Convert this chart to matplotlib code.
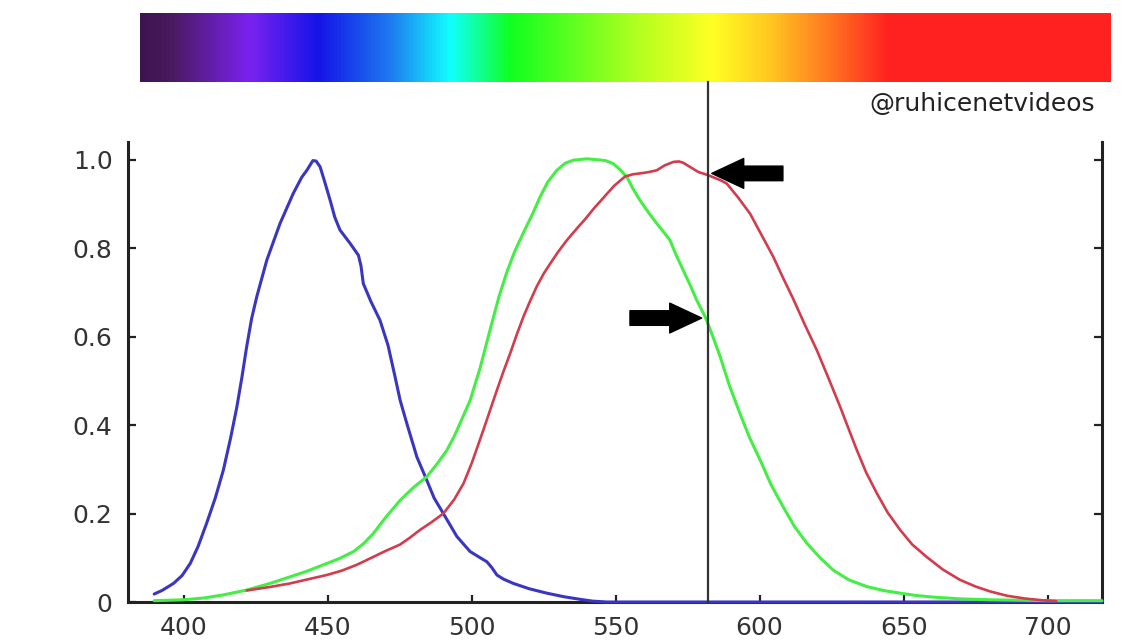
import matplotlib
matplotlib.use('Agg')
import matplotlib.pyplot as plt
import numpy as np
from matplotlib.colors import LinearSegmentedColormap

# cone response curves (wavelength nm, relative response)
blue_nm = [389.8, 392.5, 396.5, 399.5, 402.3, 405.0, 408.0, 411.0, 413.8, 416.3, 418.5, 420.3,
           421.9, 423.6, 425.4, 428.9, 433.5, 438.1, 441.0, 442.8, 444.9, 446.0, 447.4, 449.0,
           450.9, 452.5, 454.3, 457.8, 460.7, 461.6, 462.4, 465.0, 468.2, 471.0, 473.4, 475.2,
           477.5, 481.0, 484.4, 487.0, 490.2, 494.9, 499.5, 503.0, 505.3, 507.0, 508.8, 511.0,
           514.5, 520.0, 526.1, 532.0, 537.7, 542.0, 547.0, 718.9]
blue_val = [0.018, 0.026, 0.042, 0.060, 0.087, 0.125, 0.178, 0.235, 0.298, 0.370, 0.441, 0.510,
            0.577, 0.640, 0.690, 0.773, 0.856, 0.924, 0.960, 0.976, 0.998, 0.997, 0.984, 0.950,
            0.908, 0.870, 0.841, 0.811, 0.784, 0.760, 0.720, 0.680, 0.637, 0.580, 0.510, 0.456,
            0.404, 0.328, 0.276, 0.235, 0.200, 0.148, 0.114, 0.100, 0.091, 0.078, 0.061, 0.052,
            0.042, 0.030, 0.020, 0.012, 0.006, 0.002, 0.0, 0.0]

green_nm = [389.8, 400.0, 407.0, 413.8, 421.9, 430.0, 437.0, 443.0, 448.5, 454.0, 459.0, 462.5,
            465.9, 470.0, 475.2, 480.0, 484.4, 488.0, 491.4, 494.0, 496.0, 499.5, 503.0, 506.4,
            509.5, 512.2, 515.0, 518.0, 521.0, 523.8, 526.5, 529.6, 532.5, 535.4, 540.0, 543.5,
            546.5, 549.2, 551.5, 553.9, 556.0, 558.5, 561.5, 564.3, 566.5, 568.9, 571.0, 573.5,
            576.0, 578.2, 581.1, 583.5, 586.3, 589.5, 593.2, 596.5, 600.2, 604.0, 608.2, 612.0,
            616.4, 621.0, 625.6, 631.0, 637.2, 643.0, 648.8, 654.0, 660.4, 670.0, 680.0, 700.0,
            718.9]
green_val = [0.003, 0.005, 0.009, 0.016, 0.027, 0.042, 0.057, 0.070, 0.084, 0.098, 0.114, 0.132,
             0.155, 0.190, 0.230, 0.260, 0.283, 0.312, 0.343, 0.375, 0.404, 0.456, 0.530, 0.615,
             0.690, 0.745, 0.793, 0.835, 0.875, 0.916, 0.950, 0.976, 0.992, 0.999, 1.002, 1.0,
             0.998, 0.991, 0.978, 0.961, 0.935, 0.908, 0.880, 0.856, 0.838, 0.818, 0.785, 0.750,
             0.715, 0.682, 0.645, 0.605, 0.555, 0.490, 0.426, 0.372, 0.321, 0.265, 0.215, 0.172,
             0.133, 0.100, 0.072, 0.050, 0.035, 0.026, 0.020, 0.015, 0.011, 0.007, 0.005, 0.003,
             0.003]

red_nm = [421.9, 430.0, 437.0, 443.0, 449.7, 455.0, 460.1, 463.0, 465.9, 470.0, 475.2, 478.5,
          482.1, 486.0, 490.2, 494.0, 497.2, 500.0, 502.0, 504.1, 506.5, 508.8, 511.0, 513.4,
          515.7, 518.0, 520.3, 522.6, 525.0, 527.3, 530.2, 533.1, 536.5, 539.5, 542.5, 545.8,
          549.5, 553.3, 556.0, 558.5, 561.5, 564.3, 567.0, 570.1, 572.0, 573.5, 576.0, 578.8,
          581.7, 584.0, 586.3, 588.6, 592.5, 596.7, 600.5, 604.8, 608.0, 611.7, 615.5, 619.9,
          624.0, 628.0, 631.0, 633.8, 637.0, 640.7, 644.5, 648.8, 653.0, 658.0, 663.5, 669.6,
          675.0, 680.0, 686.0, 692.0, 698.0, 703.0]
red_val = [0.026, 0.034, 0.042, 0.051, 0.061, 0.071, 0.084, 0.093, 0.102, 0.115, 0.130, 0.145,
           0.163, 0.180, 0.200, 0.232, 0.268, 0.313, 0.350, 0.389, 0.435, 0.479, 0.520, 0.562,
           0.605, 0.645, 0.680, 0.713, 0.742, 0.765, 0.793, 0.818, 0.844, 0.866, 0.890, 0.914,
           0.941, 0.962, 0.967, 0.969, 0.972, 0.976, 0.987, 0.995, 0.996, 0.993, 0.983, 0.972,
           0.966, 0.960, 0.954, 0.946, 0.915, 0.878, 0.832, 0.780, 0.735, 0.685, 0.630, 0.569,
           0.505, 0.441, 0.390, 0.343, 0.293, 0.246, 0.202, 0.163, 0.130, 0.102, 0.074, 0.050,
           0.035, 0.024, 0.014, 0.008, 0.004, 0.002]

x_ticks = [400, 450, 500, 550, 600, 650, 700]
y_ticks = [0, 0.2, 0.4, 0.6, 0.8, 1.0]
y_tick_labels = ['0', '0.2', '0.4', '0.6', '0.8', '1.0']

marker_nm = 582  # the vertical line
arrow_red = (583.4, 0.969, 608.1)    # tip x, y, tail x
arrow_green = (579.9, 0.642, 555.0)

# colour stops of the spectrum strip
bar_pos = [0.0, 0.03, 0.112, 0.183, 0.257, 0.319, 0.381, 0.515, 0.59, 0.649, 0.71, 0.772, 1.0]
bar_colors = ['#3c1450', '#4a1a5e', '#7a22f0', '#1414e8', '#1e7af0', '#10ffff', '#10ff20',
              '#b4ff20', '#ffff24', '#ffc820', '#ff7820', '#ff2020', '#ff2020']

watermark = '@ruhicenetvideos'

fig = plt.figure(figsize=(11.31, 6.44), dpi=100)

# spectrum strip
bar_ax = fig.add_axes([140 / 1131, 1 - 82 / 644, 971 / 1131, 69 / 644])
cmap = LinearSegmentedColormap.from_list('spec', list(zip(bar_pos, bar_colors)))
bar_ax.imshow(np.linspace(0, 1, 512)[None, :], cmap=cmap, aspect='auto')
bar_ax.axis('off')

# main plot
ax = fig.add_axes([128 / 1131, 42 / 644, 974 / 1131, 460 / 644])
line_kw = dict(clip_on=False, solid_joinstyle='round', solid_capstyle='round')
ax.plot(blue_nm, blue_val, color='#3a36c2', lw=2.2, zorder=3, **line_kw)
ax.plot(green_nm, green_val, color='#45ee45', lw=2.2, zorder=3.1, **line_kw)
ax.plot(red_nm, red_val, color='#d23c4c', lw=1.9, zorder=3.2, **line_kw)

ax.axvline(marker_nm, ymin=0, ymax=(602 - 82) / 460, color='#333333', lw=1.6,
           clip_on=False, zorder=4)

for tip_x, tip_y, tail_x in [arrow_red, arrow_green]:
    ax.annotate('', xy=(tip_x, tip_y), xytext=(tail_x, tip_y),
                arrowprops=dict(arrowstyle='simple,head_length=23,head_width=21.5,tail_width=10.5',
                                mutation_scale=1, fc='black', ec='black',
                                shrinkA=0, shrinkB=0), zorder=5)

ax.set_xlim(380.7, 718.9)
ax.set_ylim(0, 1.04)
ax.set_xticks(x_ticks)
ax.set_yticks(y_ticks)
ax.set_yticklabels(y_tick_labels)

ax.spines['top'].set_visible(False)
for s in ['left', 'right', 'bottom']:
    ax.spines[s].set_linewidth(2.2)
    ax.spines[s].set_color('#222222')

ax.tick_params(axis='y', direction='in', length=6, width=1.6, colors='#222222',
               labelsize=18, labelcolor='#333333', pad=11, right=True)
ax.tick_params(axis='x', direction='in', length=5, width=1.6, colors='#222222',
               labelsize=18, labelcolor='#333333', pad=10)

fig.text(1095 / 1131, 1 - 104 / 644, watermark, ha='right', va='center',
         fontsize=18, color='#222222')

fig.savefig('out.png', dpi=100)
